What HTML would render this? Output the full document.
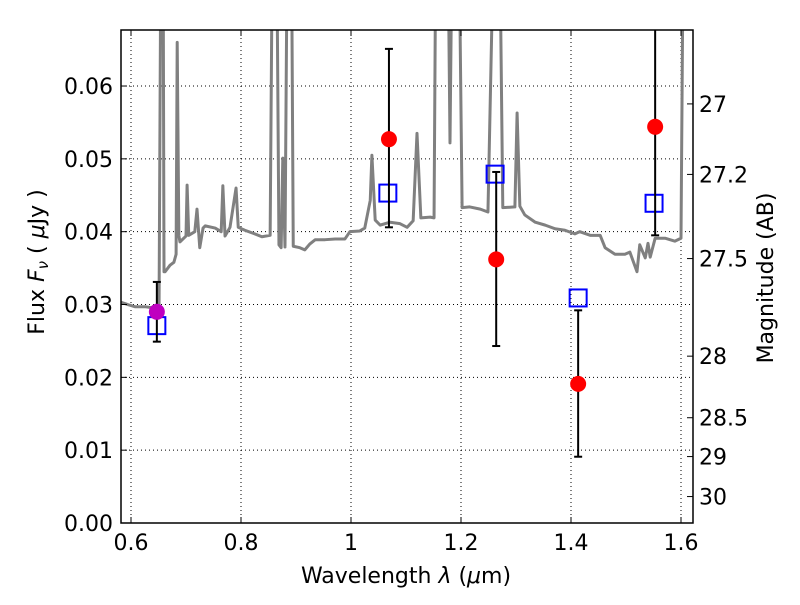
<!DOCTYPE html>
<html><head><meta charset="utf-8"><style>
body{margin:0;background:#fff}
svg text{font-family:"DejaVu Sans","Liberation Sans",sans-serif;fill:#000}
</style></head><body>
<svg id="c" width="800" height="600"></svg>
<script>
const specLam=[0.582,0.598,0.607,0.625,0.644,0.651,0.655,0.658,0.660,0.662,0.671,0.678,0.682,0.684,0.687,0.689,0.700,0.702,0.705,0.716,0.720,0.725,0.731,0.735,0.753,0.764,0.767,0.771,0.780,0.791,0.795,0.807,0.825,0.838,0.853,0.858,0.864,0.869,0.873,0.876,0.880,0.885,0.891,0.895,0.907,0.916,0.925,0.935,0.953,0.971,0.989,0.998,1.016,1.025,1.035,1.038,1.044,1.053,1.071,1.089,1.102,1.113,1.120,1.127,1.144,1.151,1.155,1.175,1.180,1.185,1.195,1.202,1.216,1.235,1.249,1.262,1.269,1.276,1.298,1.302,1.307,1.316,1.335,1.353,1.371,1.389,1.407,1.416,1.435,1.453,1.462,1.480,1.498,1.507,1.520,1.525,1.535,1.540,1.544,1.553,1.571,1.589,1.600,1.605,1.622];
const specFlux=[0.0303,0.0299,0.0297,0.0297,0.0295,0.0295,0.09,0.09,0.0345,0.0345,0.0354,0.0358,0.0369,0.0660,0.0395,0.0386,0.0394,0.0464,0.0395,0.0400,0.0431,0.0378,0.0405,0.0408,0.0405,0.0400,0.0463,0.0394,0.0406,0.0460,0.0406,0.0402,0.0397,0.0393,0.0395,0.09,0.09,0.0382,0.0378,0.0501,0.0379,0.09,0.09,0.0380,0.0378,0.0375,0.0383,0.0389,0.0389,0.0390,0.0390,0.0400,0.0401,0.0405,0.0443,0.0505,0.0416,0.0409,0.0413,0.0411,0.0406,0.0415,0.0535,0.0419,0.0420,0.0419,0.09,0.09,0.0522,0.09,0.09,0.0433,0.0434,0.0431,0.0427,0.09,0.09,0.0433,0.0434,0.0563,0.0435,0.0423,0.0413,0.0409,0.0404,0.0402,0.0397,0.0400,0.0395,0.0395,0.0378,0.0369,0.0369,0.0372,0.0345,0.0382,0.0364,0.0384,0.0365,0.0391,0.0391,0.0387,0.0391,0.09,0.09];
const obsLam=[1.069,1.264,1.413,1.553];
const obsFlux=[0.0527,0.0362,0.0191,0.0544];
const obsHi=[0.0651,0.0482,0.0292,0.0800];
const obsLo=[0.0406,0.0243,0.0091,0.0395];
const refLam=[0.647];
const refFlux=[0.0290];
const refHi=[0.0331];
const refLo=[0.0249];
const modLam=[0.647,1.067,1.262,1.413,1.551];
const modFlux=[0.0271,0.0453,0.0479,0.0309,0.0439];
const xTicks=[0.6,0.8,1.0,1.2,1.4,1.6];
const xTickLabels=["0.6","0.8","1","1.2","1.4","1.6"];
const yTicks=[0,0.01,0.02,0.03,0.04,0.05,0.06];
const yTickLabels=["0.00","0.01","0.02","0.03","0.04","0.05","0.06"];
const magTicks=[27,27.2,27.5,28,28.5,29,30];
const magTickLabels=["27","27.2","27.5","28","28.5","29","30"];

const L=121,R=693,T=30,B=523;
const X=v=>131+(v-0.6)*550;
const Y=v=>523-v*7283;
const NS="http://www.w3.org/2000/svg";
const svg=document.getElementById('c');
function mk(tag,attrs,parent){const e=document.createElementNS(NS,tag);for(const k in attrs)e.setAttribute(k,attrs[k]);(parent||svg).appendChild(e);return e;}
const defs=mk('defs',{});const cp=mk('clipPath',{id:'clip'},defs);mk('rect',{x:L,y:T,width:R-L,height:B-T},cp);

xTicks.forEach(v=>{const g=mk('line',{x1:X(v),x2:X(v),y1:T,y2:B,stroke:'#000','stroke-width':1,'stroke-dasharray':'1,3'});

});
yTicks.forEach(v=>{const g=mk('line',{x1:L,x2:R,y1:Y(v),y2:Y(v),stroke:'#000','stroke-width':1,'stroke-dasharray':'1,3'});

});

const gp=mk('g',{'clip-path':'url(#clip)'});
const sp=mk('polyline',{points:specLam.map((l,i)=>X(l)+','+Y(specFlux[i])).join(' '),fill:'none',stroke:'#808080','stroke-width':3,'stroke-linejoin':'round'},gp);



function errbar(l,hi,lo,name){const x=X(l);const g=mk('g',{'clip-path':'url(#clip)'});


mk('line',{x1:x,x2:x,y1:Y(hi),y2:Y(lo),stroke:'#000','stroke-width':2},g);
mk('line',{x1:x-4,x2:x+4,y1:Y(hi),y2:Y(hi),stroke:'#000','stroke-width':2},g);
mk('line',{x1:x-4,x2:x+4,y1:Y(lo),y2:Y(lo),stroke:'#000','stroke-width':2},g);}
modLam.forEach((l,i)=>{const r=mk('rect',{x:X(l)-8.5,y:Y(modFlux[i])-8.5,width:17,height:17,fill:'none',stroke:'#0000ff','stroke-width':2});

});
refLam.forEach((l,i)=>{errbar(l,refHi[i],refLo[i],'ref-error-bar');
const c=mk('circle',{cx:X(l),cy:Y(refFlux[i]),r:8,fill:'#bf00bf'});

});
obsLam.forEach((l,i)=>{errbar(l,obsHi[i],obsLo[i],'obs-error-bar');
const c=mk('circle',{cx:X(l),cy:Y(obsFlux[i]),r:8,fill:'#ff0000'});

});

const fr=mk('rect',{x:L,y:T,width:R-L,height:B-T,fill:'none',stroke:'#000','stroke-width':1.5});



xTicks.forEach((v,i)=>{mk('line',{x1:X(v),x2:X(v),y1:B,y2:B-6,stroke:'#000'});mk('line',{x1:X(v),x2:X(v),y1:T,y2:T+6,stroke:'#000'});
const t=mk('text',{x:X(v),y:B+27,'text-anchor':'middle','font-size':22});t.textContent=xTickLabels[i];

});
yTicks.forEach((v,i)=>{mk('line',{x1:L,x2:L+6,y1:Y(v),y2:Y(v),stroke:'#000'});
const t=mk('text',{x:L-8,y:Y(v)+8,'text-anchor':'end','font-size':22});t.textContent=yTickLabels[i];

});
magTicks.forEach((m,i)=>{const f=Math.pow(10,(23.9-m)/2.5);const y=Y(f);
mk('line',{x1:R,x2:R-6,y1:y,y2:y,stroke:'#000'});
const t=mk('text',{x:R+6,y:y+8,'font-size':22});t.textContent=magTickLabels[i];

});
</script>
<svg width="800" height="600" style="position:absolute;left:0;top:0;pointer-events:none">
<text x="406" y="583" text-anchor="middle" font-size="22">Wavelength  <tspan font-style="italic">λ</tspan> (<tspan font-style="italic">μ</tspan>m)</text>
<text transform="translate(44,262) rotate(-90)" text-anchor="middle" font-size="22">Flux  <tspan font-style="italic">F</tspan><tspan font-style="italic" font-size="15" dy="4">ν</tspan><tspan dy="-4">  (  </tspan><tspan font-style="italic">μ</tspan>Jy )</text>
<text transform="translate(773,278) rotate(-90)" text-anchor="middle" font-size="22">Magnitude (AB)</text>
</svg>
</body></html>
